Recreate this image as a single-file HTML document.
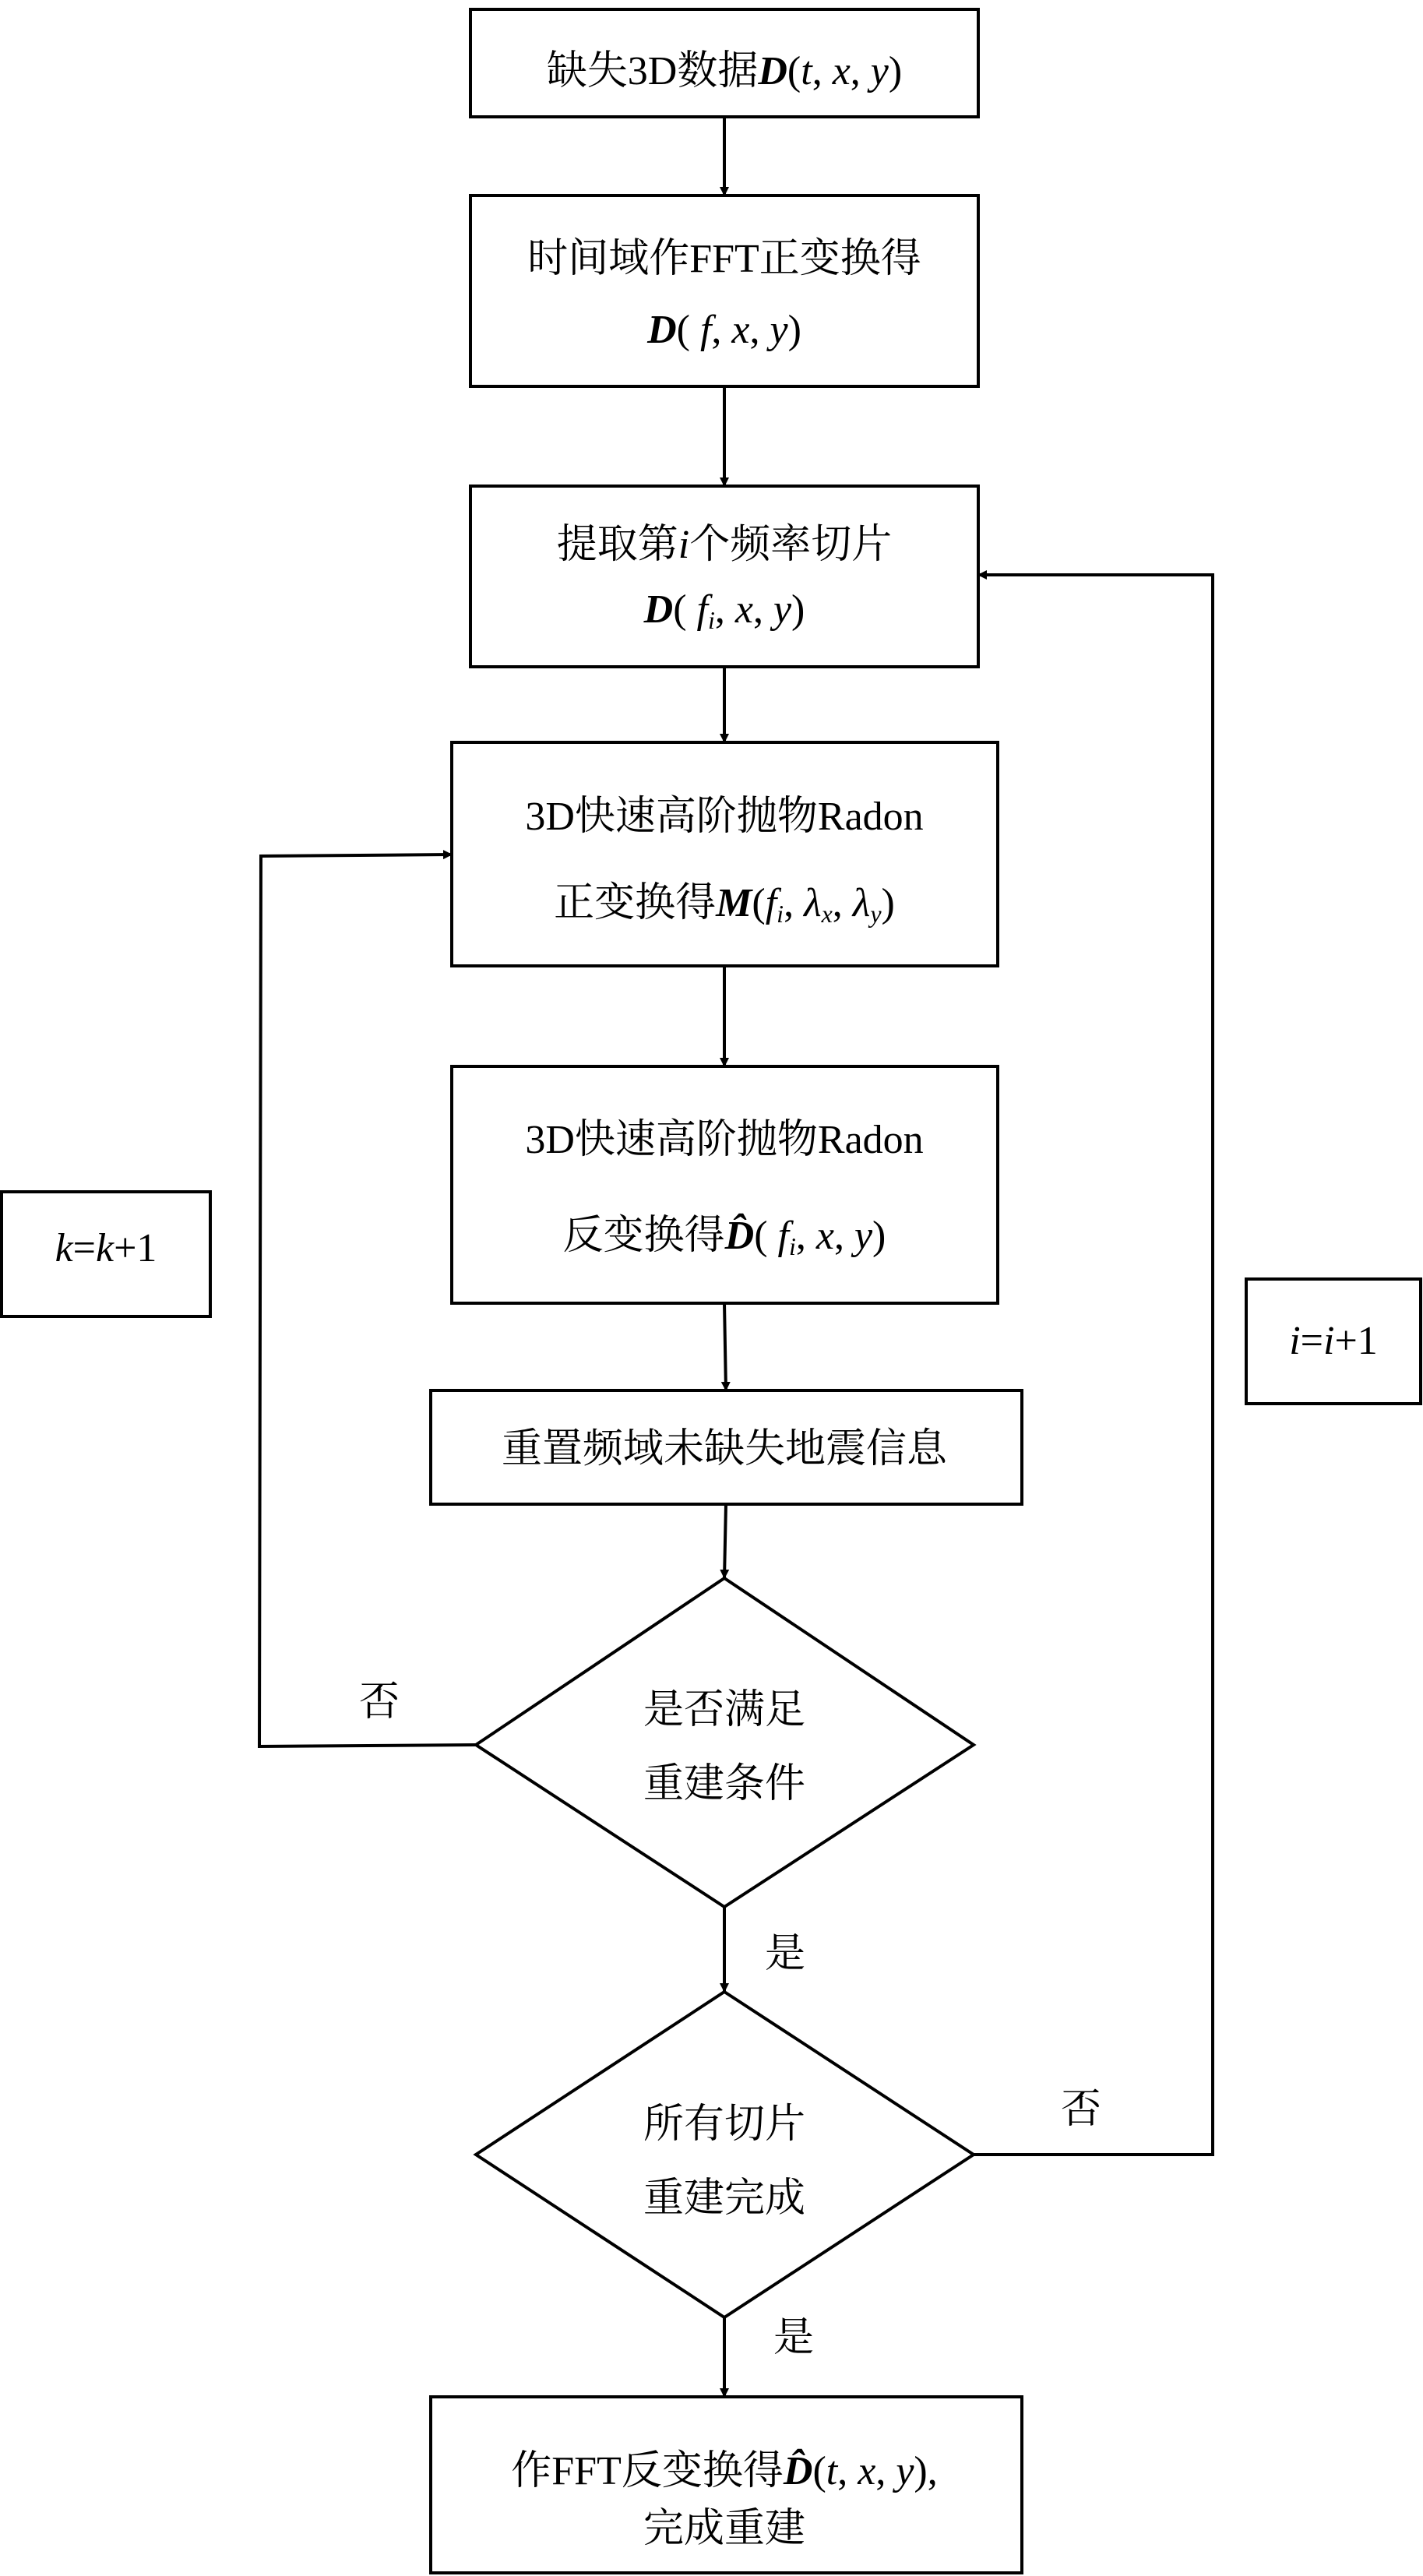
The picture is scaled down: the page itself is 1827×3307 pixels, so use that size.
<!DOCTYPE html>
<html><head><meta charset="utf-8"><style>
html,body{margin:0;padding:0;background:#fff}
svg{display:block}
text{font-family:"Liberation Serif","Noto Serif CJK SC",serif;font-size:52px;fill:#000}
.b{font-weight:bold;font-style:italic}
.i{font-style:italic}
</style></head><body>
<svg width="1827" height="3307" viewBox="0 0 1827 3307" xmlns="http://www.w3.org/2000/svg">
<defs>
<marker id="a" markerWidth="12" markerHeight="20" refX="11" refY="6" orient="auto" markerUnits="userSpaceOnUse" viewBox="0 0 12 12">
<path d="M0,0 L12,6 L0,12 Z" fill="#000"/>
</marker>
</defs>
<g fill="none" stroke="#000" stroke-width="4">
<rect x="604" y="12" width="652" height="138"/>
<rect x="604" y="251" width="652" height="245"/>
<rect x="604" y="624" width="652" height="232"/>
<rect x="580" y="953" width="701" height="287"/>
<rect x="580" y="1369" width="701" height="304"/>
<rect x="2" y="1530" width="268" height="160"/>
<rect x="1600" y="1642" width="224" height="160"/>
<rect x="553" y="1785" width="759" height="146"/>
<polygon points="930,2026 1250,2240 930,2448 611,2240"/>
<polygon points="930,2557 1250,2766 930,2975 611,2766"/>
<rect x="553" y="3077" width="759" height="226"/>
</g>
<g stroke="#000" stroke-width="4" fill="none">
<line x1="930" y1="150" x2="930" y2="251" marker-end="url(#a)" />
<line x1="930" y1="496" x2="930" y2="624" marker-end="url(#a)"/>
<line x1="930" y1="856" x2="930" y2="953" marker-end="url(#a)"/>
<line x1="930" y1="1240" x2="930" y2="1369" marker-end="url(#a)"/>
<line x1="930" y1="1673" x2="932" y2="1785" marker-end="url(#a)"/>
<line x1="932" y1="1931" x2="930" y2="2026" marker-end="url(#a)"/>
<line x1="930" y1="2448" x2="930" y2="2557" marker-end="url(#a)"/>
<line x1="930" y1="2975" x2="930" y2="3077" marker-end="url(#a)"/>
<polyline points="611,2240 333,2242 335,1099 580,1097" marker-end="url(#a)"/>
<polyline points="1250,2766 1557,2766 1557,738 1256,738" marker-end="url(#a)"/>
</g>
<g text-anchor="middle">
<text x="930" y="108">缺失3D数据<tspan class="b">D</tspan>(<tspan class="i">t</tspan>, <tspan class="i">x</tspan>, <tspan class="i">y</tspan>)</text>
<text x="930" y="349">时间域作FFT正变换得</text>
<text x="930" y="440"><tspan class="b">D</tspan>( <tspan class="i">f</tspan>, <tspan class="i">x</tspan>, <tspan class="i">y</tspan>)</text>
<text x="930" y="716">提取第<tspan class="i">i</tspan>个频率切片</text>
<text x="930" y="799"><tspan class="b">D</tspan>( <tspan class="i">f</tspan><tspan class="i" font-size="32" dy="8">i</tspan><tspan dy="-8">, </tspan><tspan class="i">x</tspan>, <tspan class="i">y</tspan>)</text>
<text x="930" y="1065">3D快速高阶抛物Radon</text>
<text x="930" y="1176">正变换得<tspan class="b">M</tspan>(<tspan class="i">f</tspan><tspan class="i" font-size="32" dy="8">i</tspan><tspan dy="-8">, </tspan><tspan class="i">λ</tspan><tspan class="i" font-size="32" dy="8">x</tspan><tspan dy="-8">, </tspan><tspan class="i">λ</tspan><tspan class="i" font-size="32" dy="8">y</tspan><tspan dy="-8">)</tspan></text>
<text x="930" y="1480">3D快速高阶抛物Radon</text>
<text x="930" y="1603">反变换得<tspan class="b">D̂</tspan>( <tspan class="i">f</tspan><tspan class="i" font-size="32" dy="8">i</tspan><tspan dy="-8">, </tspan><tspan class="i">x</tspan>, <tspan class="i">y</tspan>)</text>
<text x="930" y="1877">重置频域未缺失地震信息</text>
<text x="930" y="2212">是否满足</text>
<text x="930" y="2307">重建条件</text>
<text x="930" y="2744">所有切片</text>
<text x="930" y="2839">重建完成</text>
<text x="930" y="3189">作FFT反变换得<tspan class="b">D̂</tspan>(<tspan class="i">t</tspan>, <tspan class="i">x</tspan>, <tspan class="i">y</tspan>),</text>
<text x="930" y="3263">完成重建</text>
<text x="136" y="1619"><tspan class="i">k</tspan>=<tspan class="i">k</tspan>+1</text>
<text x="1712" y="1738"><tspan class="i">i</tspan>=<tspan class="i">i</tspan>+1</text>
<text x="487" y="2202">否</text>
<text x="1008" y="2525">是</text>
<text x="1388" y="2725">否</text>
<text x="1019" y="3018">是</text>
</g>
</svg>
</body></html>
